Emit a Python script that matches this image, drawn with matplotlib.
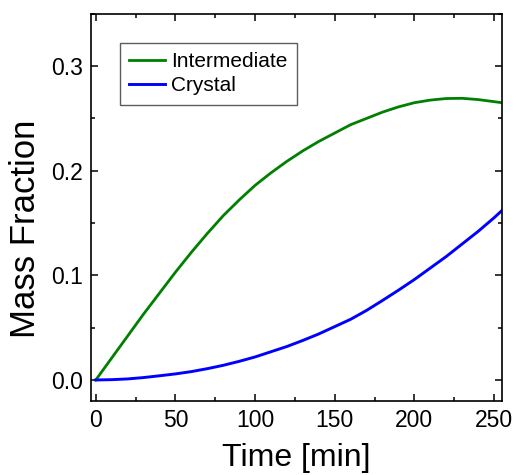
import matplotlib
matplotlib.use('Agg')
import matplotlib.pyplot as plt
from matplotlib.ticker import MultipleLocator, FormatStrFormatter

plt.rcParams['font.family'] = ['Liberation Sans', 'DejaVu Sans']

# Data
time = [0, 10, 20, 30, 40, 50, 60, 70, 80, 90, 100, 110, 120, 130, 140,
        150, 160, 170, 180, 190, 200, 210, 220, 230, 240, 250, 255]
intermediate = [0.0, 0.021, 0.042, 0.063, 0.083, 0.103, 0.122, 0.140, 0.157,
                0.172, 0.186, 0.198, 0.209, 0.219, 0.228, 0.236, 0.244, 0.250,
                0.256, 0.261, 0.265, 0.2675, 0.269, 0.2692, 0.268, 0.266, 0.265]
crystal = [0.0, 0.0003, 0.001, 0.0023, 0.004, 0.0058, 0.008, 0.0108, 0.014,
           0.0178, 0.022, 0.027, 0.032, 0.0378, 0.044, 0.051, 0.058, 0.0665,
           0.076, 0.0858, 0.096, 0.107, 0.118, 0.130, 0.142, 0.155, 0.162]

fig = plt.figure(figsize=(5.17, 4.75), dpi=100)
ax = fig.add_axes([0.176, 0.156, 0.795, 0.815])

ax.plot(time, intermediate, color='#008000', lw=2.0, label='Intermediate')
ax.plot(time, crystal, color='#0000ff', lw=2.1, label='Crystal')

ax.set_xlim(-3, 255)
ax.set_ylim(-0.02, 0.35)
ax.xaxis.set_major_locator(MultipleLocator(50))
ax.xaxis.set_minor_locator(MultipleLocator(25))
ax.yaxis.set_major_locator(MultipleLocator(0.1))
ax.yaxis.set_minor_locator(MultipleLocator(0.05))
ax.yaxis.set_major_formatter(FormatStrFormatter('%.1f'))

ax.tick_params(which='both', direction='in', top=True, right=True,
               labelsize=16.5, width=1.1)
ax.tick_params(which='major', length=5, pad=6)
ax.tick_params(which='minor', length=3)
for s in ax.spines.values():
    s.set_linewidth(1.2)

ax.set_xlabel('Time [min]', fontsize=23)
ax.set_ylabel('Mass Fraction', fontsize=25)
ax.xaxis.set_label_coords(0.5, -0.108)
ax.yaxis.set_label_coords(-0.12, 0.445)

leg = ax.legend(loc='upper left', bbox_to_anchor=(0.07, 0.925), borderaxespad=0,
                fontsize=15, fancybox=False, handlelength=1.7, handletextpad=0.3,
                labelspacing=0.25, borderpad=0.45)
leg.get_frame().set_edgecolor('#333333')
leg.get_frame().set_linewidth(1.0)

fig.savefig('out.png', dpi=100)
